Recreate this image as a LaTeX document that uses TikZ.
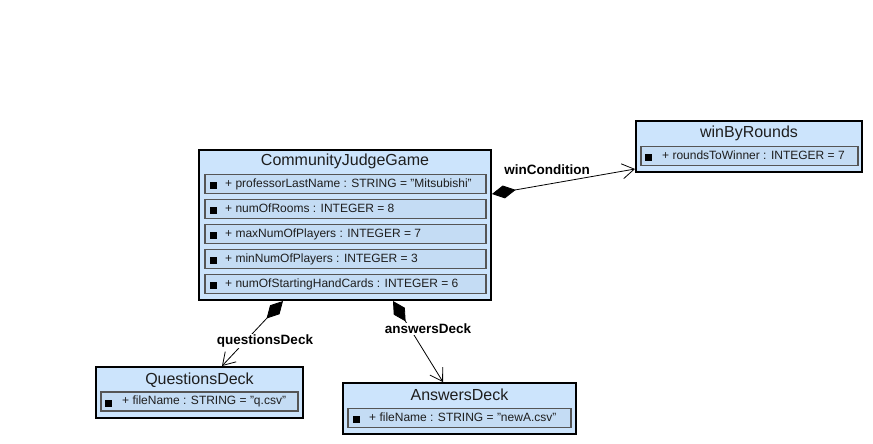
\documentclass[tikz,border=0pt]{standalone}
\usepackage{fontspec}
\setmainfont{Liberation Sans}
\usetikzlibrary{arrows.meta,calc}

\definecolor{classfill}{RGB}{204,228,252}
\definecolor{attrfill}{RGB}{196,220,244}
\definecolor{attrline}{RGB}{85,85,85}
\definecolor{ink}{RGB}{30,30,30}

\tikzset{
  classbox/.style={draw=black,line width=2pt,fill=classfill,inner sep=0pt},
  attrbox/.style={draw=attrline,line width=1.2pt,fill=attrfill,inner sep=0pt,minimum height=19pt},
  attrtext/.style={font=\fontsize{12}{14}\selectfont,text=ink,anchor=west,inner sep=0pt,
                   text height=9pt,text depth=2.5pt},
  titletext/.style={font=\fontsize{16}{19}\selectfont,text=ink,inner sep=0pt},
  bullet/.style={fill=black,minimum size=7pt,inner sep=0pt},
  rolelabel/.style={font=\bfseries\fontsize{13.5}{16}\selectfont,text=black,fill=white,inner sep=1pt},
  assoc/.style={line width=0.8pt,
    {Diamond[length=24pt,width=13pt]}-{Straight Barb[length=12pt,width=15pt,line width=0.8pt]}}
}

\begin{document}
\begin{tikzpicture}[x=1pt,y=-1pt]
\useasboundingbox (0,0) rectangle (873,444);

% ---- CommunityJudgeGame ----
\node[classbox,minimum width=292pt,minimum height=150pt] (game) at (345,225) {};
\node[titletext] (gameT) at (345,161) {CommunityJudgeGame};
\foreach \i/\yy/\txt in {
  1/184/{+ professorLastName : STRING = "Mitsubishi"},
  2/209/{+ numOfRooms : INTEGER = 8},
  3/234/{+ maxNumOfPlayers : INTEGER = 7},
  4/259/{+ minNumOfPlayers : INTEGER = 3},
  5/284/{+ numOfStartingHandCards : INTEGER = 6}} {
  \node[attrbox,minimum width=281pt] (gameA\i) at (345.5,\yy) {};
  \node[bullet] (gameB\i) at (213,\yy+1.5) {};
  \node[attrtext] (gameL\i) at (225,\yy) {\txt};
}

% ---- winByRounds ----
\node[classbox,minimum width=226pt,minimum height=51pt] (win) at (749,146.5) {};
\node[titletext] (winT) at (749,133) {winByRounds};
\node[attrbox,minimum width=217pt] (winA1) at (749.5,156) {};
\node[bullet] (winB1) at (648.5,157.5) {};
\node[attrtext] (winL1) at (662,156) {+ roundsToWinner : INTEGER = 7};

% ---- QuestionsDeck ----
\node[classbox,minimum width=207pt,minimum height=51pt] (qd) at (199.5,392.5) {};
\node[titletext] (qdT) at (199.5,380) {QuestionsDeck};
\node[attrbox,minimum width=197pt] (qdA1) at (199.5,401.5) {};
\node[bullet] (qdB1) at (108.5,403) {};
\node[attrtext] (qdL1) at (122,401.5) {+ fileName : STRING = "q.csv"};

% ---- AnswersDeck ----
\node[classbox,minimum width=233pt,minimum height=51pt] (ad) at (459.5,408.5) {};
\node[titletext] (adT) at (459.5,395) {AnswersDeck};
\node[attrbox,minimum width=223pt] (adA1) at (459.5,418) {};
\node[bullet] (adB1) at (356.5,419.5) {};
\node[attrtext] (adL1) at (369,418) {+ fileName : STRING = "newA.csv"};

% ---- composition associations ----
\draw[assoc] ([yshift=-45pt]game.north east) -- ([yshift=4pt]win.south west);
\node[rolelabel] (winRole) at (547,170) {winCondition};

\draw[assoc] ([xshift=-62pt]game.south) -- ([xshift=22.5pt]qd.north);
\node[rolelabel] (qdRole) at (265,341) {questionsDeck};

\draw[assoc] ([xshift=48pt]game.south) -- ([xshift=-16.5pt]ad.north);
\node[rolelabel] (adRole) at (428,329) {answersDeck};
\end{tikzpicture}
\end{document}
